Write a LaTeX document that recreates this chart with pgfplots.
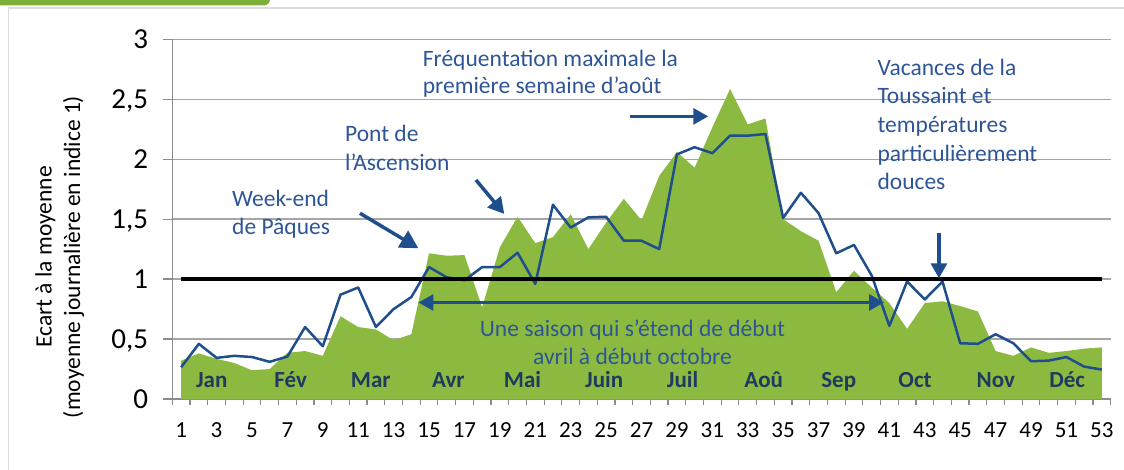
\documentclass[border=0pt]{standalone}
\usepackage{pgfplots}
\pgfplotsset{compat=1.18}
\usepackage{fontspec}
\setmainfont{Carlito}
\usetikzlibrary{arrows.meta}
\definecolor{areagreen}{HTML}{8CBA41}
\definecolor{lineblue}{HTML}{1F4E8C}
\definecolor{textblue}{HTML}{2E5596}
\definecolor{monthnavy}{HTML}{1F3A5F}
\definecolor{axgray}{HTML}{8C8C8C}
\definecolor{gridgray}{HTML}{A6A6A6}
\definecolor{framegray}{HTML}{DDDDDD}
\definecolor{tabgreen}{HTML}{7DAE3A}
\pgfplotstableread{
w v
1 0.32
2 0.38
3 0.335
4 0.30
5 0.24
6 0.25
7 0.385
8 0.40
9 0.36
10 0.69
11 0.60
12 0.58
13 0.49
14 0.54
15 1.215
16 1.195
17 1.20
18 0.765
19 1.265
20 1.52
21 1.30
22 1.35
23 1.54
24 1.25
25 1.47
26 1.67
27 1.49
28 1.86
29 2.06
30 1.93
31 2.265
32 2.585
33 2.29
34 2.34
35 1.50
36 1.40
37 1.32
38 0.89
39 1.07
40 0.93
41 0.80
42 0.585
43 0.80
44 0.815
45 0.775
46 0.73
47 0.40
48 0.36
49 0.43
50 0.385
51 0.40
52 0.42
53 0.43
}\areadata
\pgfplotstableread{
w v
1 0.265
2 0.46
3 0.343
4 0.36
5 0.35
6 0.31
7 0.354
8 0.60
9 0.44
10 0.87
11 0.93
12 0.60
13 0.75
14 0.85
15 1.10
16 1.015
17 0.99
18 1.10
19 1.10
20 1.22
21 0.96
22 1.62
23 1.43
24 1.515
25 1.52
26 1.32
27 1.32
28 1.25
29 2.04
30 2.10
31 2.05
32 2.196
33 2.196
34 2.21
35 1.51
36 1.72
37 1.55
38 1.215
39 1.285
40 1.03
41 0.61
42 0.98
43 0.83
44 0.98
45 0.465
46 0.46
47 0.54
48 0.465
49 0.315
50 0.32
51 0.35
52 0.27
53 0.245
}\linedata
\begin{document}
\begin{tikzpicture}
\path[use as bounding box] (0pt,0pt) rectangle (1124pt,470pt);
\fill[tabgreen, rounded corners=6pt] (-20pt,464.6pt) rectangle (270pt,490pt);
\draw[framegray, line width=1.5pt] (8.3pt,-5pt) -- (8.3pt,462pt) -- (1135pt,462pt);
\begin{axis}[
  at={(172.3pt,71pt)}, anchor=south west,
  scale only axis, width=938.4pt, height=359.7pt,
  xmin=0.5, xmax=53.5, ymin=0, ymax=3,
  clip=false,
  axis x line*=bottom, axis y line*=left,
  axis line style={axgray, line width=1.3pt},
  xtick={1,3,...,53},
  minor xtick={0.5,1.5,...,53.5},
  major x tick style={draw=none},
  minor x tick style={axgray, line width=1.2pt},
  minor tick length=6pt,
  ytick={0,0.5,...,3},
  yticklabels={0,{0,5},1,{1,5},2,{2,5},3},
  major y tick style={axgray, line width=1.2pt},
  major tick length=9pt,
  tick align=outside,
  ymajorgrids,
  grid style={gridgray, line width=1.3pt},
  /pgf/number format/assume math mode=true,
  xticklabel style={font=\fontsize{23}{27}\selectfont, anchor=base, inner sep=0pt, yshift=-30pt},
  yticklabel style={font=\fontsize{29}{34}\selectfont, anchor=base east, inner sep=0pt, yshift=-9.5pt, xshift=-15pt},
]
\addplot[fill=areagreen, draw=none] table[x=w, y=v] {\areadata} \closedcycle;
\addplot[lineblue, line width=2.5pt, line join=round] table[x=w, y=v] {\linedata};
\addplot[black, line width=3.3pt] coordinates {(1,1) (53,1)};
% month labels
\foreach \m/\x in {Jan/2.725, Fév/7.19, Mar/11.71, Avr/16.09, Mai/20.28, Juin/24.89, Juil/29.32, Aoû/33.90, Sep/38.14, Oct/42.45, Nov/47.01, Déc/51.04}{
  \edef\temp{\noexpand\node[anchor=base, inner sep=0pt, text=monthnavy, font=\noexpand\bfseries\noexpand\fontsize{23}{27}\noexpand\selectfont] at (axis cs:\x,0.092) {\m};}
  \temp
}
% arrows
\draw[lineblue, line width=3.5pt, -{Triangle[length=18pt,width=19pt]}] (axis cs:11.10,1.549) -- (axis cs:14.40,1.257);
\draw[lineblue, line width=3.5pt, -{Triangle[length=16pt,width=17pt]}] (axis cs:17.65,1.827) -- (axis cs:19.25,1.543);
\draw[lineblue, line width=3.3pt, -{Triangle[length=15pt,width=16pt]}] (axis cs:26.35,2.357) -- (axis cs:30.77,2.357);
\draw[lineblue, line width=3.3pt, -{Triangle[length=15pt,width=16pt]}] (axis cs:43.80,1.387) -- (axis cs:43.80,1.007);
\draw[lineblue, line width=3pt, {Triangle[length=15pt,width=16pt]}-{Triangle[length=15pt,width=16pt]}] (axis cs:14.40,0.805) -- (axis cs:40.70,0.805);
% annotations
\begin{scope}[every node/.style={text=textblue, inner sep=0pt, font=\fontsize{23.5}{29}\selectfont}]
\node[anchor=base west] at (axis cs:3.87,1.604) {Week-end};
\node[anchor=base west] at (axis cs:3.87,1.368) {de Pâques};
\node[anchor=base west] at (axis cs:10.25,2.146) {Pont de};
\node[anchor=base west] at (axis cs:10.25,1.904) {l’Ascension};
\node[anchor=base west] at (axis cs:14.64,2.773) {Fréquentation maximale la};
\node[anchor=base west] at (axis cs:14.64,2.544) {première semaine d’août};
\node[anchor=base west] at (axis cs:40.32,2.702) {Vacances de la};
\node[anchor=base west] at (axis cs:40.32,2.463) {Toussaint et};
\node[anchor=base west] at (axis cs:40.32,2.224) {températures};
\node[anchor=base west] at (axis cs:40.32,1.984) {particulièrement};
\node[anchor=base west] at (axis cs:40.32,1.745) {douces};
\node[anchor=base] at (axis cs:26.49,0.525) {Une saison qui s’étend de début};
\node[anchor=base] at (axis cs:26.49,0.284) {avril à début octobre};
\end{scope}
\end{axis}
\node[rotate=90, anchor=base, inner sep=0pt, font=\fontsize{23.5}{29}\selectfont] at (51.5pt,213pt) {Ecart à la moyenne};
\node[rotate=90, anchor=base, inner sep=0pt, font=\fontsize{23.5}{29}\selectfont] at (80pt,213pt) {(moyenne journalière en indice 1)};
\end{tikzpicture}
\end{document}
